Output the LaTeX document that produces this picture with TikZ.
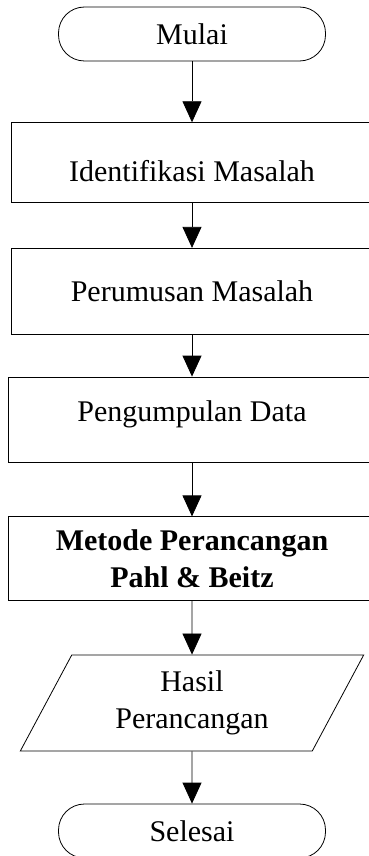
\documentclass[tikz,border=0pt]{standalone}
\usepackage{fontspec}
\setmainfont{Liberation Serif}
\usetikzlibrary{arrows.meta,shapes.geometric}

\newcommand\chartfont{\fontsize{30}{37}\selectfont}

\tikzset{
  terminal/.style={draw, rectangle, rounded corners=26pt, minimum width=267pt, minimum height=54pt, inner sep=0pt},
  process/.style={draw, rectangle, minimum width=362pt, inner sep=0pt},
  inout/.style={draw, trapezium, trapezium left angle=63, trapezium right angle=117,
    trapezium stretches=true, minimum width=344pt, minimum height=96pt, align=center, inner sep=0pt},
  flow/.style={-{Triangle[width=19pt,length=21pt]}},
}

\begin{document}
\begin{tikzpicture}[x=1pt, y=-1pt, line width=0.8pt, font=\chartfont]
  \path[use as bounding box, clip] (0,0) rectangle (369,856);
  \draw
    (192,34) node[terminal] (mulai){Mulai}
    (192,162.7) node[process, minimum height=80pt, text height=38pt] (ident){Identifikasi Masalah}
    (192,291.3) node[process, minimum height=86pt] (rumus){Perumusan Masalah}
    (192,419.5) node[process, minimum width=368pt, minimum height=85pt, text height=21pt, text depth=18pt] (data){Pengumpulan Data}
    (192,558.8) node[process, minimum width=368pt, minimum height=84pt, align=center, font=\chartfont\bfseries] (metode){Metode Perancangan\\Pahl \& Beitz}
    (192,703) node[inout] (hasil){Hasil\\Perancangan}
    (192,831) node[terminal] (selesai){Selesai};
  \begin{scope}[flow]
    \draw (mulai) to (ident);
    \draw (ident) to (rumus);
    \draw (rumus) to (data);
    \draw (data) to (metode);
    \draw (metode) to (hasil);
    \draw (hasil) to (selesai);
  \end{scope}
\end{tikzpicture}
\end{document}
